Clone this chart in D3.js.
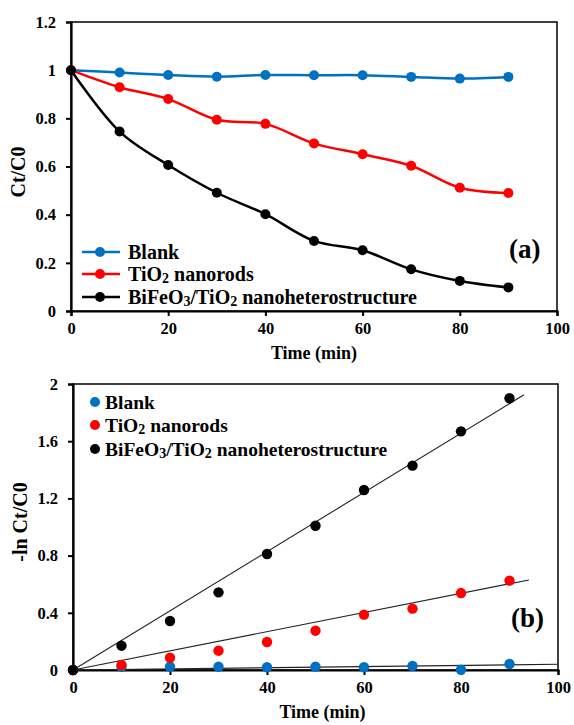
<!DOCTYPE html>
<html>
<head>
<meta charset="utf-8">
<script src="https://cdn.jsdelivr.net/npm/d3@7"></script>
<style>
  body { margin: 0; background: #fff; }
  svg { display: block; font-family: "Liberation Serif", "Times New Roman", serif; font-weight: bold; }
</style>
</head>
<body>
<svg id="chart" width="574" height="725"></svg>
<script>
// time points (min)
const times = [0, 10, 20, 30, 40, 50, 60, 70, 80, 90];

// panel (a): Ct/C0
const blankRatio = [1, 0.990, 0.980, 0.973, 0.980, 0.979, 0.979, 0.972, 0.965, 0.972];
const tio2Ratio = [1, 0.929, 0.880, 0.794, 0.777, 0.696, 0.651, 0.603, 0.512, 0.490];
const bfoRatio = [1, 0.745, 0.606, 0.491, 0.402, 0.291, 0.252, 0.173, 0.125, 0.098];

// panel (b): -ln Ct/C0
const blankLn = [0, 0.023, 0.023, 0.023, 0.019, 0.023, 0.019, 0.028, 0.002, 0.042];
const tio2Ln = [0, 0.035, 0.086, 0.135, 0.196, 0.275, 0.387, 0.429, 0.538, 0.625];
const bfoLn = [0, 0.170, 0.343, 0.543, 0.811, 1.009, 1.259, 1.429, 1.669, 1.900];

// linear fits through origin (slope, last time) as drawn
const fitSlopes = [0.0004, 0.0067, 0.0207];
const fitEnds = [100, 94, 93];

const seriesNames = ["Blank", "TiO2 nanorods", "BiFeO3/TiO2 nanoheterostructure"];
const seriesColors = ["#0070C0", "#FF0000", "#000000"];

const xTicks = [0, 20, 40, 60, 80, 100];
const yTicksA = [0, 0.2, 0.4, 0.6, 0.8, 1, 1.2];
const yTicksB = [0, 0.4, 0.8, 1.2, 1.6, 2];

const svg = d3.select("#chart");

// legend label: the digit right after O is set as subscript
function writeLabel(text, name) {
  const parts = name.split(/(?<=O)([23])/);
  let shift = 0;
  parts.forEach(p => {
    if (!p.length) return;
    const sub = /^[23]$/.test(p);
    const dy = sub ? 2 : -shift;
    text.append("tspan").attr("dy", dy).attr("font-size", sub ? "14px" : null).text(p);
    shift = sub ? 2 : 0;
  });
}

function panel(cfg) {
  const x = d3.scaleLinear().domain([0, 100]).range([cfg.left, cfg.right]);
  const y = d3.scaleLinear().domain([0, cfg.yMax]).range([cfg.bottom, cfg.top]);
  const g = svg.append("g");

  // frame
  g.append("rect")
    .attr("x", cfg.left).attr("y", cfg.top)
    .attr("width", cfg.right - cfg.left).attr("height", cfg.bottom - cfg.top)
    .attr("fill", "none").attr("stroke", "#000").attr("stroke-width", 1.5);

  const xAxis = g.append("g")
    .attr("transform", `translate(0,${cfg.bottom})`)
    .call(d3.axisBottom(x).tickValues(xTicks).tickSize(5).tickPadding(6).tickFormat(d3.format("d")));
  const yAxis = g.append("g")
    .attr("transform", `translate(${cfg.left},0)`)
    .call(d3.axisLeft(y).tickValues(cfg.yTicks).tickSize(5).tickPadding(10).tickFormat(d => +d.toFixed(1)));
  [xAxis, yAxis].forEach(a => {
    a.attr("font-family", null).attr("font-size", null);
    a.select(".domain").attr("stroke-width", 2.2);
    a.selectAll(".tick line").attr("stroke-width", 2);
    a.selectAll("text").attr("font-size", "16.5px").attr("fill", "#000");
  });

  g.append("text")
    .attr("x", (cfg.left + cfg.right) / 2 + cfg.titleShift).attr("y", cfg.bottom + 48)
    .attr("text-anchor", "middle").attr("font-size", "18px")
    .text("Time (min)");
  g.append("text")
    .attr("transform", `translate(${cfg.left - 46},${cfg.yTitleY}) rotate(-90)`)
    .attr("text-anchor", "middle").attr("font-size", "20px")
    .text(cfg.yTitle);

  g.append("text")
    .attr("x", cfg.tagX).attr("y", cfg.tagY)
    .attr("font-size", "27px")
    .text(cfg.tag);

  return { g, x, y };
}

// ---- panel (a)
const pa = panel({ left: 71, right: 557, top: 22, bottom: 311, yMax: 1.2, yTicks: yTicksA,
  yTitle: "Ct/C0", yTitleY: 172, tag: "(a)", tagX: 509, tagY: 258, titleShift: 0 });

const line = d3.line().x((d, i) => pa.x(times[i])).y(d => pa.y(d)).curve(d3.curveCatmullRom);
[blankRatio, tio2Ratio, bfoRatio].forEach((vals, k) => {
  pa.g.append("path").attr("d", line(vals))
    .attr("fill", "none").attr("stroke", seriesColors[k]).attr("stroke-width", 2.5);
  pa.g.selectAll(null).data(vals).join("circle")
    .attr("cx", (d, i) => pa.x(times[i])).attr("cy", d => pa.y(d))
    .attr("r", 5).attr("fill", seriesColors[k]);
});

const legA = [252, 274, 297];
seriesNames.forEach((name, k) => {
  const gy = legA[k];
  pa.g.append("line").attr("x1", 82).attr("x2", 120).attr("y1", gy).attr("y2", gy)
    .attr("stroke", seriesColors[k]).attr("stroke-width", 2.5);
  pa.g.append("circle").attr("cx", 100).attr("cy", gy).attr("r", 5).attr("fill", seriesColors[k]);
  const t = pa.g.append("text").attr("x", 128).attr("y", gy + 6.5).attr("font-size", "20px");
  writeLabel(t, name);
});

// ---- panel (b)
const pb = panel({ left: 73, right: 558, top: 384, bottom: 670, yMax: 2, yTicks: yTicksB,
  yTitle: "-ln Ct/C0", yTitleY: 522, tag: "(b)", tagX: 511, tagY: 627, titleShift: 7 });

fitSlopes.forEach((s, k) => {
  pb.g.append("line")
    .attr("x1", pb.x(0)).attr("y1", pb.y(0))
    .attr("x2", pb.x(fitEnds[k])).attr("y2", pb.y(s * fitEnds[k]))
    .attr("stroke", "#222").attr("stroke-width", 1.1);
});

[blankLn, tio2Ln, bfoLn].forEach((vals, k) => {
  pb.g.selectAll(null).data(vals).join("circle")
    .attr("cx", (d, i) => pb.x(times[i])).attr("cy", d => pb.y(d))
    .attr("r", 5.2).attr("fill", seriesColors[k]);
});

const legB = [402, 425, 449];
seriesNames.forEach((name, k) => {
  const gy = legB[k];
  pb.g.append("circle").attr("cx", 95).attr("cy", gy).attr("r", 5).attr("fill", seriesColors[k]);
  const t = pb.g.append("text").attr("x", 105).attr("y", gy + 6.5).attr("font-size", "19.5px");
  writeLabel(t, name);
});
</script>
</body>
</html>
